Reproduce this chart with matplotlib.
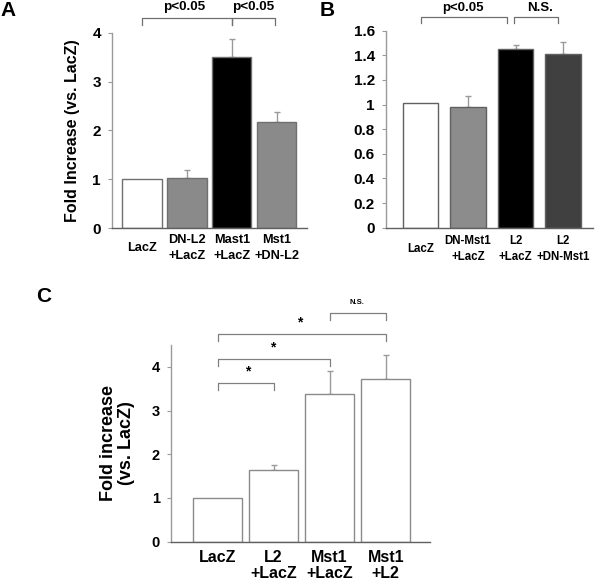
import matplotlib
matplotlib.use("Agg")
import matplotlib.pyplot as plt
import numpy as np

plt.rcParams['font.family'] = ['Liberation Sans', 'DejaVu Sans']
plt.rcParams['font.weight'] = 'bold'

# Panel A data
a_labels = ["LacZ", "DN-L2\n+LacZ", "Mast1\n+LacZ", "Mst1\n+DN-L2"]
a_values = [1.0, 1.02, 3.51, 2.18]
a_errors = [0.0, 0.17, 0.37, 0.20]
a_colors = ["white", "#8a8a8a", "black", "#8a8a8a"]

# Panel B data
b_labels = ["LacZ", "DN-Mst1\n+LacZ", "L2\n+LacZ", "L2\n+DN-Mst1"]
b_values = [1.01, 0.98, 1.45, 1.41]
b_errors = [0.0, 0.09, 0.03, 0.10]
b_colors = ["white", "#8c8c8c", "black", "#404040"]

# Panel C data
c_labels = ["LacZ", "L2\n+LacZ", "Mst1\n+LacZ", "Mst1\n+L2"]
c_values = [1.0, 1.65, 3.37, 3.73]
c_errors = [0.0, 0.11, 0.53, 0.55]

W, H = 600, 582
fig = plt.figure(figsize=(W / 100, H / 100), dpi=100)

def ax_px(l, r, t, b):
    return fig.add_axes([l / W, 1 - b / H, (r - l) / W, (b - t) / H])

AX_GRAY = "#9a9a9a"
LINE_GRAY = "#707070"

def style(ax, ylim, yticks, yticklabels, ysize, xlabels, xsize, xlim, xpad, va, ls):
    for s in ["top", "right"]:
        ax.spines[s].set_visible(False)
    ax.spines["left"].set_color(AX_GRAY)
    ax.spines["bottom"].set_color("#606060")
    ax.spines["left"].set_linewidth(1.0)
    ax.spines["bottom"].set_linewidth(1.0)
    ax.set_ylim(*ylim)
    ax.set_xlim(*xlim)
    ax.set_yticks(yticks)
    ax.set_yticklabels(yticklabels, fontsize=ysize, fontweight='bold')
    ax.tick_params(axis='y', length=3, width=0.8, color=AX_GRAY, pad=5)
    ax.set_xticks(np.arange(len(xlabels)))
    ax.set_xticklabels(xlabels, fontsize=xsize, fontweight='bold', linespacing=ls)
    ax.tick_params(axis='x', length=0, pad=xpad)
    for t in ax.get_xticklabels():
        t.set_va(va)

def bracket(ax, x0, x1, y, drop, color=LINE_GRAY, lw=0.9):
    ax.plot([x0, x0, x1, x1], [y - drop, y, y, y - drop], color=color, lw=lw, clip_on=False)

# ---------- Panel A ----------
axA = ax_px(112, 307, 32.7, 228.3)
xa = np.arange(len(a_values))
axA.bar(xa, a_values, width=0.87, color=a_colors, edgecolor="#707070", linewidth=1.0, zorder=2)
axA.errorbar(xa[1:], a_values[1:], yerr=[np.zeros(3), a_errors[1:]], fmt='none',
             ecolor=AX_GRAY, elinewidth=1.0, capsize=2, capthick=1.0, zorder=1)
style(axA, (0, 4), [0, 1, 2, 3, 4], ["0", "1", "2", "3", "4"], 11,
      a_labels, 9.2, (-0.667, 3.67), 14, 'center', 1.45)
axA.set_ylabel("Fold Increase (vs. LacZ)", fontsize=11.5, fontweight='bold', labelpad=9)
bracket(axA, 0.0, 2.0, 4.30, 0.14)
bracket(axA, 2.0, 2.96, 4.30, 0.14)
axA.text(0.93, 4.52, "p<0.05", ha='center', va='center', fontsize=9.7, fontweight='bold')
axA.text(2.47, 4.52, "p<0.05", ha='center', va='center', fontsize=9.7, fontweight='bold')

# ---------- Panel B ----------
axB = ax_px(386, 593, 30.7, 227.7)
xb = np.arange(len(b_values))
axB.bar(xb, b_values, width=0.74, color=b_colors, edgecolor="#606060", linewidth=1.0, zorder=2)
axB.errorbar(xb[1:], b_values[1:], yerr=[np.zeros(3), b_errors[1:]], fmt='none',
             ecolor=AX_GRAY, elinewidth=1.0, capsize=2, capthick=1.0, zorder=1)
byt = [0, 0.2, 0.4, 0.6, 0.8, 1.0, 1.2, 1.4, 1.6]
style(axB, (0, 1.6), byt, ["0", "0.2", "0.4", "0.6", "0.8", "1", "1.2", "1.4", "1.6"], 11,
      b_labels, 8.3, (-0.726, 3.63), 15, 'center', 1.45)
bracket(axB, 0.0, 1.82, 1.711, 0.048)
bracket(axB, 1.96, 2.90, 1.711, 0.048)
axB.text(0.89, 1.785, "p<0.05", ha='center', va='center', fontsize=9.5, fontweight='bold')
axB.text(2.52, 1.785, "N.S.", ha='center', va='center', fontsize=9.5, fontweight='bold')

# ---------- Panel C ----------
axC = ax_px(171, 430, 345, 541.7)
xc = np.arange(len(c_values))
axC.bar(xc, c_values, width=0.875, color="white", edgecolor="#8a8a8a", linewidth=1.0, zorder=2)
axC.errorbar(xc[1:], c_values[1:], yerr=[np.zeros(3), c_errors[1:]], fmt='none',
             ecolor=AX_GRAY, elinewidth=1.0, capsize=2, capthick=1.0, zorder=1)
style(axC, (0, 4.5), [0, 1, 2, 3, 4], ["0", "1", "2", "3", "4"], 10.5,
      c_labels, 11.5, (-0.83, 3.79), 6, 'top', 1.12)
axC.set_ylabel("Fold increase\n(vs. LacZ)", fontsize=13, fontweight='bold', labelpad=12,
               linespacing=1.1)
bracket(axC, 0, 1, 3.63, 0.15, color="#808080")
bracket(axC, 0, 2, 4.17, 0.15, color="#808080")
bracket(axC, 0, 3, 4.75, 0.15, color="#808080")
bracket(axC, 2, 3, 5.23, 0.15, color="#808080")
axC.text(0.53, 3.90, "*", ha='center', va='center', fontsize=10, fontweight='bold')
axC.text(0.99, 4.44, "*", ha='center', va='center', fontsize=10, fontweight='bold')
axC.text(1.47, 5.01, "*", ha='center', va='center', fontsize=10, fontweight='bold')
axC.text(2.49, 5.47, "N.S.", ha='center', va='center', fontsize=5.5, fontweight='bold')

# Panel letters
fig.text(0 / W, 1 - 10 / H, "A", fontsize=15, fontweight='bold', ha='left', va='center')
fig.text(320 / W, 1 - 10 / H, "B", fontsize=15, fontweight='bold', ha='left', va='center')
fig.text(36 / W, 1 - 297 / H, "C", fontsize=15, fontweight='bold', ha='left', va='center')

fig.savefig("out.png", dpi=100)
